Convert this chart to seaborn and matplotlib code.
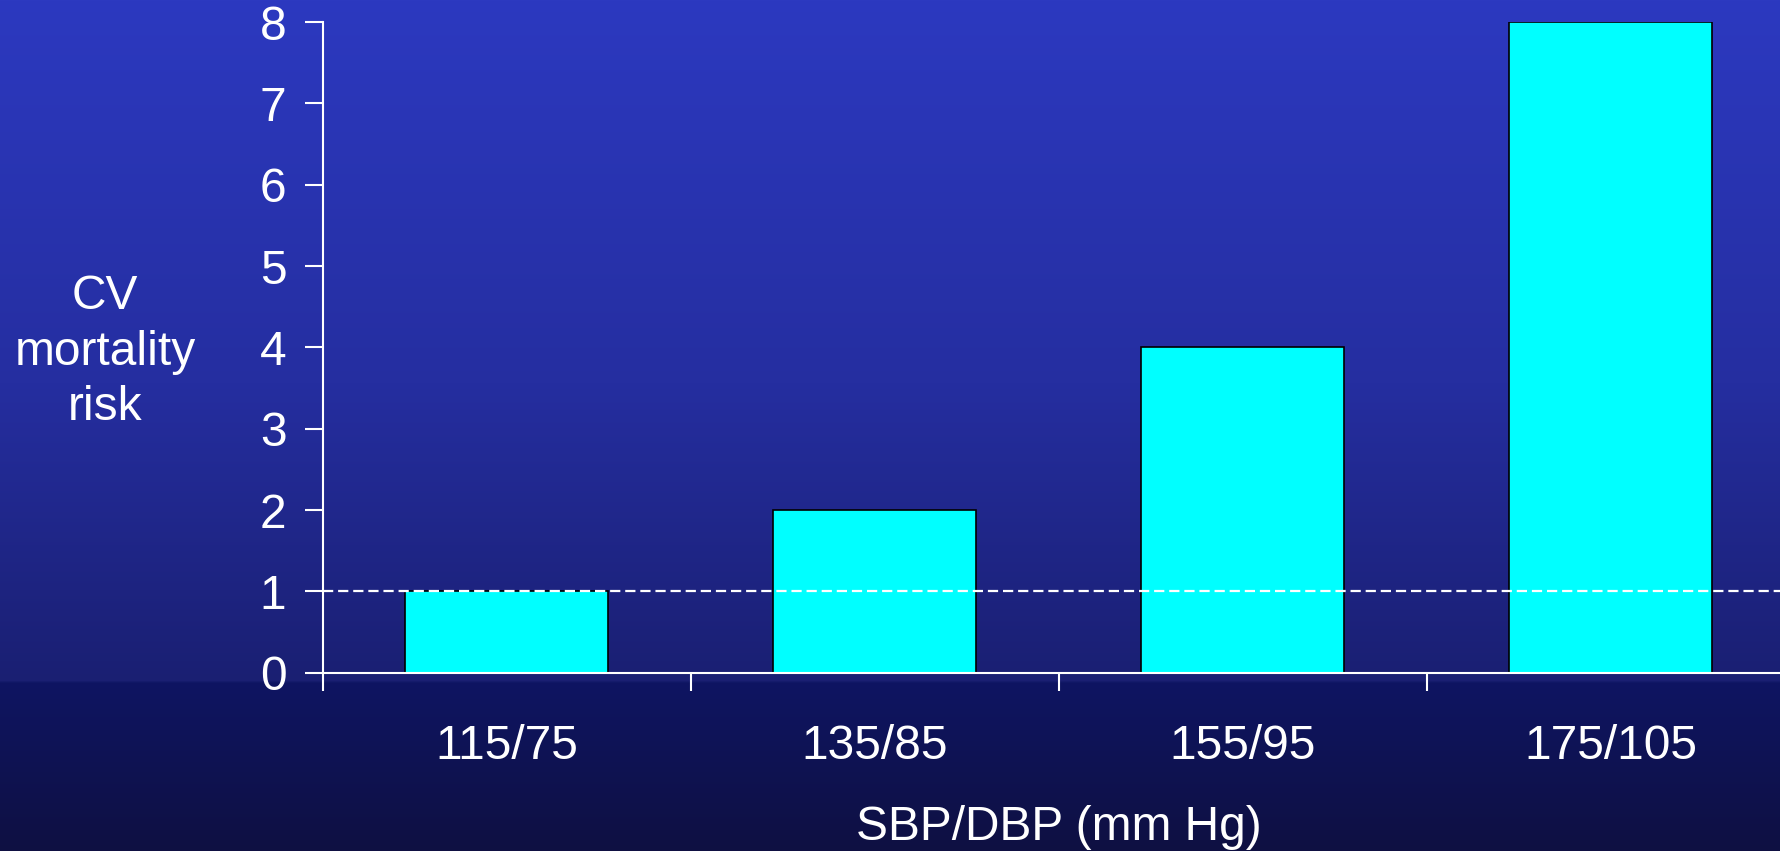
import numpy as np
import matplotlib
matplotlib.use("Agg")
import matplotlib.pyplot as plt
import pandas as pd
import seaborn as sns

# Cardiovascular mortality risk by blood-pressure band
categories = ["115/75", "135/85", "155/95", "175/105"]
risk = [1, 2, 4, 8]
y_ticks = [0, 1, 2, 3, 4, 5, 6, 7, 8]
reference_level = 1

df = pd.DataFrame({"bp": categories, "risk": risk})

sns.set_theme(style="white")
plt.rcParams["font.family"] = ["Liberation Sans", "DejaVu Sans"]

W, H, DPI = 1781, 851, 100
FS = 34.5
fig = plt.figure(figsize=(W / DPI, H / DPI), dpi=DPI)

# Slide-style vertical gradient background
bg = fig.add_axes([0, 0, 1, 1], zorder=-10)
rows = np.linspace(0, 1, H)
stops = [0.0, 0.45, 0.80, 0.803, 1.0]
cols = np.array([
    [44, 57, 192],
    [37, 46, 160],
    [26, 31, 114],
    [14, 21, 98],
    [15, 16, 66],
]) / 255.0
grad = np.stack([np.interp(rows, stops, cols[:, c]) for c in range(3)], axis=-1)
grad = np.repeat(grad[:, None, :], 4, axis=1)
bg.imshow(grad, aspect="auto", extent=[0, 1, 0, 1], origin="upper")
bg.set_axis_off()

ax_left = 322.6 / W
ax_bottom = (H - 672.7) / H
ax_w = 1472 / W
ax_h = (672.7 - 22) / H
ax = fig.add_axes([ax_left, ax_bottom, ax_w, ax_h])
ax.patch.set_alpha(0)

sns.barplot(data=df, x="bp", y="risk", ax=ax, color="#00FFFF",
            saturation=1, width=0.55, edgecolor="black", linewidth=1.2,
            zorder=2)

ax.axhline(reference_level, color="white", linestyle=(0, (4.6, 2.2)),
           linewidth=1.6, zorder=3)

ax.set_xlim(-0.5, len(categories) - 0.5)
ax.set_ylim(0, 8)

for side in ["top", "right"]:
    ax.spines[side].set_visible(False)
for side in ["left", "bottom"]:
    ax.spines[side].set_color("white")
    ax.spines[side].set_linewidth(1.5)
    ax.spines[side].set_zorder(4)

# category boundaries carry the tick marks, centres carry the labels
ax.set_xticks(np.arange(len(categories)) - 0.5)
ax.set_xticklabels([])
ax.set_xticks(np.arange(len(categories)), minor=True)
ax.set_xticklabels(categories, minor=True)
ax.tick_params(axis="x", which="major", direction="out", length=13,
               width=1.5, color="white", bottom=True)
ax.tick_params(axis="x", which="minor", length=0, pad=37, labelsize=FS,
               labelcolor="white", bottom=True)

ax.set_yticks(y_ticks)
ax.set_yticklabels([str(v) for v in y_ticks])
ax.tick_params(axis="y", direction="out", length=13, width=1.5,
               color="white", left=True, pad=13, labelsize=FS,
               labelcolor="white")

ax.set_xlabel("SBP/DBP (mm Hg)", color="white", fontsize=FS, labelpad=26)
ax.set_ylabel("")

fig.text(105 / W, 0.5 * (ax_bottom + ax_bottom + ax_h) - 5 / H,
         "CV\nmortality\nrisk",
         color="white", fontsize=FS, ha="center", va="center",
         linespacing=1.3)

fig.savefig("out.png", dpi=DPI)
